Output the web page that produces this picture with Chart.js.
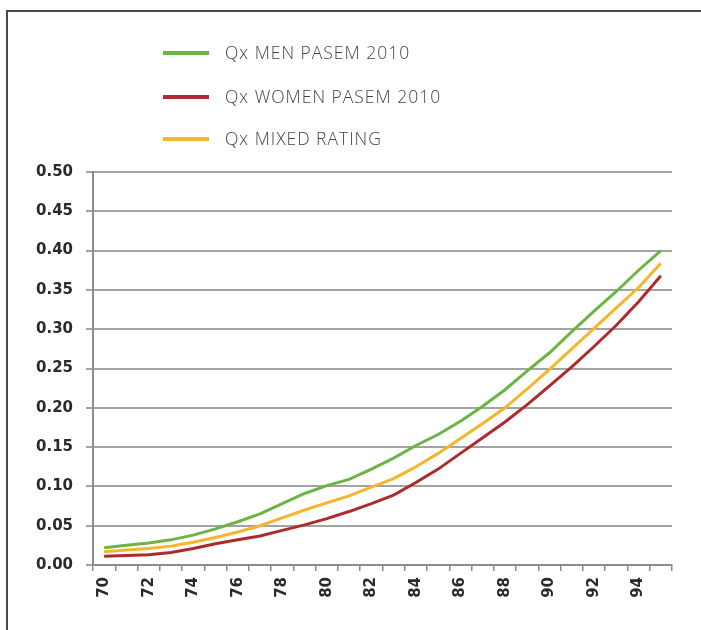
<!DOCTYPE html>
<html>
<head>
<meta charset="utf-8">
<script src="https://cdn.jsdelivr.net/npm/chart.js@4/dist/chart.umd.min.js"></script>
<style>
  html, body { margin: 0; padding: 0; background: #ffffff; }
  #wrap { position: relative; width: 701px; height: 630px; overflow: hidden; background: #fff; }
  #frame { position: absolute; left: 6px; top: 10px; width: 900px; height: 900px;
           border-left: 2px solid #4a4a4a; border-top: 2px solid #4a4a4a; box-sizing: border-box; }
  #c { position: absolute; left: 0; top: 0; }
</style>
</head>
<body>
<div id="wrap">
  <div id="frame"></div>
  <canvas id="c" width="701" height="630"></canvas>
</div>
<script>
// Ages on the horizontal axis
const ages = [70, 71, 72, 73, 74, 75, 76, 77, 78, 79, 80, 81, 82, 83, 84, 85, 86, 87, 88, 89, 90, 91, 92, 93, 94, 95];

// Mortality rates qx by age
const qxMen = [0.022, 0.025, 0.028, 0.032, 0.038, 0.046, 0.055, 0.065, 0.078, 0.091, 0.101, 0.109, 0.122, 0.136, 0.152,
               0.166, 0.183, 0.202, 0.223, 0.247, 0.270, 0.297, 0.323, 0.348, 0.375, 0.400];
const qxWomen = [0.011, 0.012, 0.013, 0.016, 0.021, 0.027, 0.032, 0.037, 0.044, 0.051, 0.059, 0.068, 0.078, 0.089, 0.105,
                 0.122, 0.142, 0.162, 0.182, 0.204, 0.228, 0.252, 0.278, 0.305, 0.335, 0.368];
const qxMixed = [0.017, 0.019, 0.021, 0.024, 0.029, 0.035, 0.042, 0.050, 0.060, 0.070, 0.079, 0.088, 0.099, 0.110, 0.125,
                 0.142, 0.161, 0.180, 0.200, 0.224, 0.249, 0.275, 0.301, 0.327, 0.353, 0.384];

const seriesNames = ['Qx MEN PASEM 2010', 'Qx WOMEN PASEM 2010', 'Qx MIXED RATING'];
const seriesColors = ['#6cb545', '#ad2a2e', '#f6b52a'];

// Vertical legend drawn above the plot area
const stackedLegend = {
  id: 'stackedLegend',
  afterDraw(chart) {
    const ctx = chart.ctx;
    const rows = [53, 97, 139];
    ctx.save();
    chart.data.datasets.forEach((ds, i) => {
      const y = rows[i];
      ctx.strokeStyle = ds.borderColor;
      ctx.lineWidth = 4;
      ctx.lineCap = 'butt';
      ctx.beginPath();
      ctx.moveTo(163, y);
      ctx.lineTo(209, y);
      ctx.stroke();
      ctx.fillStyle = '#444444';
      ctx.font = '300 17.5px "Open Sans"';
      ctx.letterSpacing = '1px';
      ctx.textBaseline = 'middle';
      ctx.textAlign = 'left';
      ctx.fillText(ds.label, 225, y + 1);
    });
    ctx.restore();
  }
};

const datasets = [qxMen, qxWomen, qxMixed].map((vals, i) => ({
  label: seriesNames[i],
  data: vals,
  borderColor: seriesColors[i],
  backgroundColor: seriesColors[i],
  borderWidth: 3,
  pointRadius: 0,
  tension: 0,
  fill: false
}));
datasets[0].order = 3;
datasets[2].order = 2;
datasets[1].order = 1;

const tickFont = { family: 'DejaVu Sans', weight: 'bold', size: 15 };

new Chart(document.getElementById('c'), {
  type: 'line',
  data: { labels: ages.map(String), datasets },
  options: {
    responsive: false,
    animation: false,
    devicePixelRatio: 1,
    layout: { padding: { top: 172, right: 29, bottom: 0, left: 0 } },
    plugins: { legend: { display: false }, tooltip: { enabled: false } },
    scales: {
      x: {
        type: 'category',
        offset: true,
        grid: { display: true, offset: true, drawOnChartArea: false, drawTicks: true, tickLength: 6, color: '#8c8c8c', lineWidth: 1.5 },
        border: { display: true, color: '#8c8c8c', width: 2 },
        ticks: {
          autoSkip: false,
          minRotation: 90,
          maxRotation: 90,
          padding: 6,
          color: '#2a2a2a',
          font: tickFont,
          callback: function (v, i) { const a = ages[i]; return a % 2 === 0 ? String(a) : ''; }
        },
        afterFit(scale) { scale.height = 65; }
      },
      y: {
        min: 0,
        max: 0.5,
        grid: { color: '#a3a3a3', lineWidth: 2, drawTicks: true, tickLength: 7 },
        border: { display: true, color: '#8c8c8c', width: 2 },
        ticks: {
          stepSize: 0.05,
          padding: 13,
          color: '#2a2a2a',
          font: tickFont,
          callback: (v) => Number(v).toFixed(2)
        },
        afterFit(scale) { scale.width = 93; }
      }
    }
  },
  plugins: [stackedLegend]
});
</script>
</body>
</html>
